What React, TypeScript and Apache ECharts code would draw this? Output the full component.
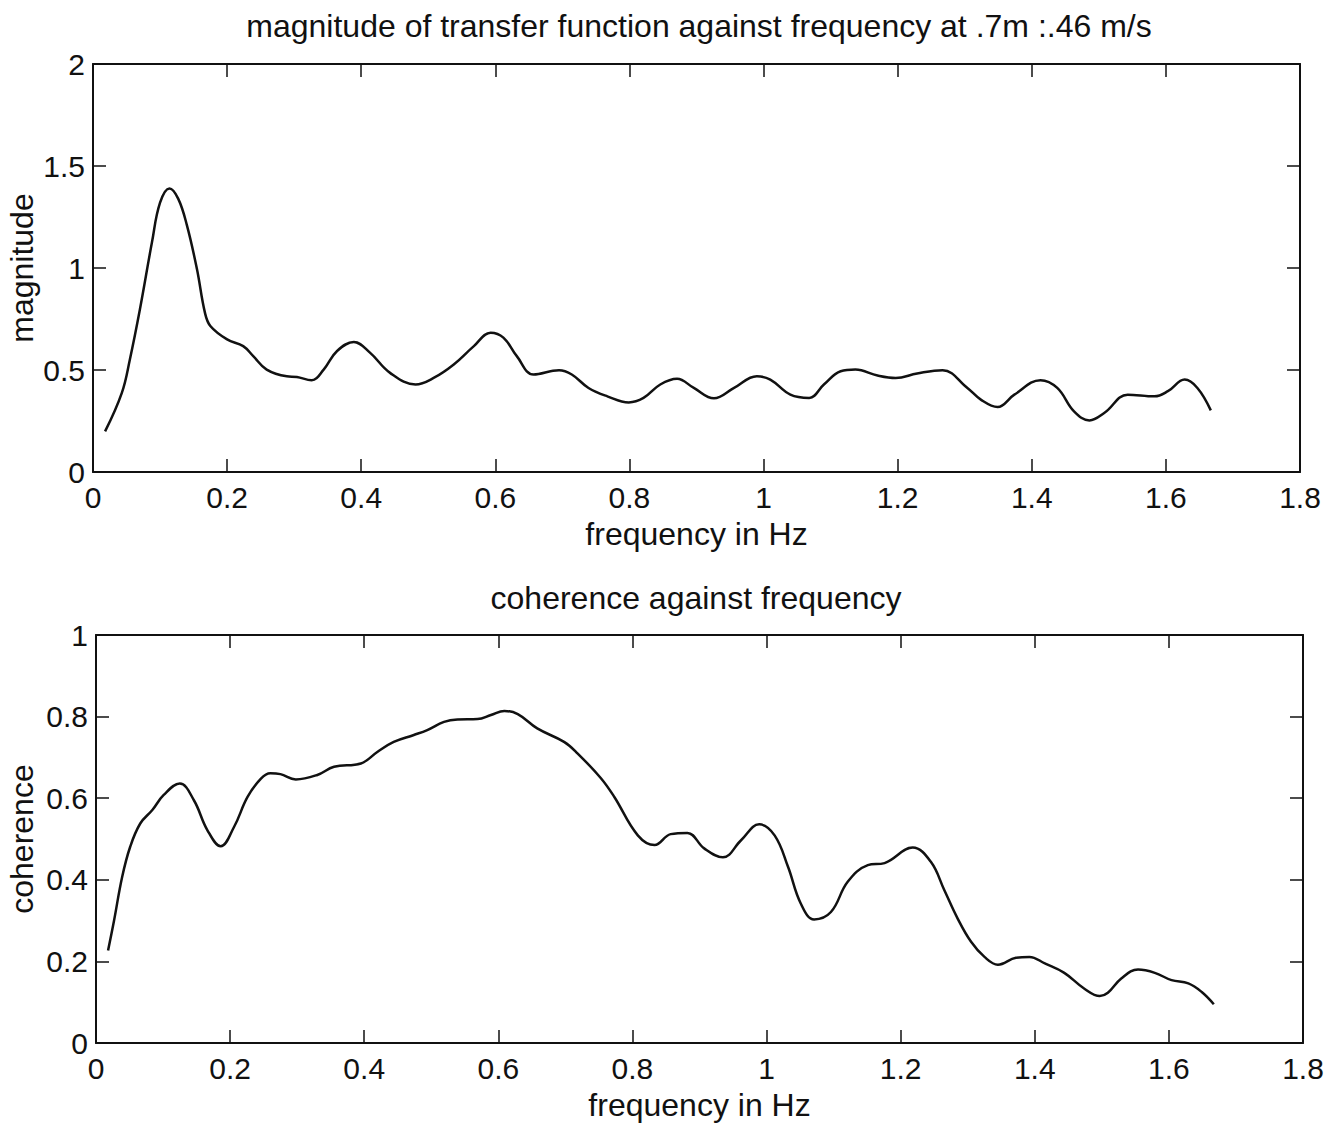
import React, { useEffect, useRef } from "react";
import * as echarts from "echarts";

const xTicksLabels = ["0", "0.2", "0.4", "0.6", "0.8", "1", "1.2", "1.4", "1.6", "1.8"];

const magFreq = [
  0.018, 0.043, 0.055, 0.07, 0.088, 0.1, 0.114, 0.127, 0.14, 0.155, 0.167, 0.175, 0.2, 0.224, 0.239,
  0.259, 0.289, 0.304, 0.326, 0.344, 0.364, 0.389, 0.413, 0.443, 0.481, 0.508, 0.538, 0.568, 0.593,
  0.612, 0.632, 0.657, 0.695, 0.714, 0.739, 0.767, 0.799, 0.821, 0.846, 0.871, 0.896, 0.926, 0.956,
  0.99, 1.01, 1.04, 1.068, 1.09, 1.115, 1.137, 1.17, 1.197, 1.229, 1.267, 1.304, 1.324, 1.349, 1.374,
  1.413, 1.438, 1.463, 1.486, 1.508, 1.543, 1.583, 1.603, 1.628, 1.647, 1.667,
];
const magValues = [
  0.199, 0.388, 0.552, 0.798, 1.127, 1.32, 1.39, 1.34, 1.21, 0.995, 0.78, 0.716, 0.65, 0.617, 0.568,
  0.502, 0.469, 0.466, 0.45, 0.502, 0.593, 0.637, 0.585, 0.486, 0.429, 0.461, 0.527, 0.617, 0.683,
  0.659, 0.568, 0.478, 0.499, 0.478, 0.412, 0.371, 0.341, 0.363, 0.429, 0.457, 0.412, 0.361, 0.412,
  0.469, 0.453, 0.379, 0.363, 0.429, 0.494, 0.502, 0.473, 0.461, 0.483, 0.499, 0.412, 0.355, 0.319, 0.379,
  0.45, 0.412, 0.297, 0.253, 0.289, 0.379, 0.371, 0.396, 0.453, 0.412, 0.302,
];

const cohFreq = [
  0.018, 0.027, 0.039, 0.051, 0.066, 0.084, 0.101, 0.125, 0.146, 0.166, 0.186, 0.206, 0.226, 0.246,
  0.26, 0.275, 0.298, 0.33, 0.355, 0.395, 0.42, 0.444, 0.474, 0.494, 0.519, 0.539, 0.569, 0.589, 0.609,
  0.629, 0.658, 0.698, 0.718, 0.753, 0.773, 0.808, 0.833, 0.857, 0.882, 0.907, 0.935, 0.962, 0.989,
  1.012, 1.032, 1.051, 1.071, 1.096, 1.121, 1.151, 1.176, 1.218, 1.245, 1.265, 1.285, 1.305, 1.325,
  1.345, 1.372, 1.392, 1.415, 1.444, 1.474, 1.497, 1.509, 1.529, 1.554, 1.579, 1.604, 1.629, 1.649, 1.667,
];
const cohValues = [
  0.227, 0.301, 0.407, 0.481, 0.538, 0.571, 0.608, 0.636, 0.595, 0.522, 0.482, 0.53, 0.603, 0.648,
  0.661, 0.659, 0.646, 0.657, 0.677, 0.685, 0.714, 0.738, 0.755, 0.767, 0.787, 0.793, 0.794, 0.804, 0.814,
  0.806, 0.771, 0.738, 0.71, 0.649, 0.603, 0.509, 0.485, 0.512, 0.515, 0.477, 0.455, 0.497, 0.536,
  0.509, 0.432, 0.342, 0.303, 0.321, 0.395, 0.436, 0.441, 0.479, 0.444, 0.375, 0.305, 0.248, 0.211,
  0.192, 0.209, 0.211, 0.195, 0.172, 0.133, 0.115, 0.123, 0.158, 0.18, 0.172, 0.154, 0.146, 0.125, 0.095,
];

const topTitle = "magnitude of transfer function against frequency at .7m :.46 m/s";
const bottomTitle = "coherence against frequency";
const xName = "frequency in Hz";
const topYName = "magnitude";
const bottomYName = "coherence";

const FONT = "Liberation Sans, Arial, Helvetica, sans-serif";
const INK = "#111";

export default function App() {
  const ref = useRef<HTMLDivElement>(null);
  useEffect(() => {
    document.body.style.margin = "0";
    const chart = echarts.init(ref.current!, null, { renderer: "svg" });
    const axisLine = { show: true, onZero: false, lineStyle: { color: INK, width: 2 } };
    const tick = { show: true, inside: true, length: 13, lineStyle: { color: INK, width: 1.5 } };
    const labelStyle = { color: INK, fontSize: 30, fontFamily: FONT };
    const nameStyle = { color: INK, fontSize: 32, fontFamily: FONT };

    const mkX = (grid: number, bottom: boolean) => ({
      type: "value",
      gridIndex: grid,
      position: bottom ? "bottom" : "top",
      min: 0,
      max: 1.8,
      interval: 0.2,
      axisLine,
      axisTick: tick,
      splitLine: { show: false },
      axisLabel: bottom
        ? { show: true, margin: 10, ...labelStyle, formatter: (v: number) => xTicksLabels[Math.round(v / 0.2)] }
        : { show: false },
      name: bottom ? xName : "",
      nameLocation: "middle",
      nameGap: 46,
      nameMoveOverlap: false,
      nameTextStyle: nameStyle,
    });
    const mkY = (grid: number, left: boolean, max: number, interval: number, name: string, gap: number) => ({
      type: "value",
      gridIndex: grid,
      position: left ? "left" : "right",
      min: 0,
      max,
      interval,
      axisLine,
      axisTick: tick,
      splitLine: { show: false },
      axisLabel: left ? { show: true, margin: 8, ...labelStyle } : { show: false },
      name: left ? name : "",
      nameLocation: "middle",
      nameGap: gap,
      nameMoveOverlap: false,
      nameTextStyle: nameStyle,
    });

    chart.setOption({
      animation: false,
      backgroundColor: "#fff",
      title: [
        { text: topTitle, left: 694, top: 5, textAlign: "center", textStyle: { color: INK, fontSize: 32, fontWeight: "normal", fontFamily: FONT } },
        { text: bottomTitle, left: 691, top: 577, textAlign: "center", textStyle: { color: INK, fontSize: 32, fontWeight: "normal", fontFamily: FONT } },
      ],
      grid: [
        { left: 93, top: 64, width: 1207, height: 408, containLabel: false, outerBoundsMode: "none" },
        { left: 96, top: 635, width: 1207, height: 408, containLabel: false, outerBoundsMode: "none" },
      ],
      xAxis: [mkX(0, true), mkX(0, false), mkX(1, true), mkX(1, false)],
      yAxis: [
        mkY(0, true, 2, 0.5, topYName, 55),
        mkY(0, false, 2, 0.5, "", 55),
        mkY(1, true, 1, 0.2, bottomYName, 58),
        mkY(1, false, 1, 0.2, "", 58),
      ],
      series: [
        {
          type: "line",
          xAxisIndex: 0,
          yAxisIndex: 0,
          data: magFreq.map((f, i) => [f, magValues[i]]),
          showSymbol: false,
          smooth: 0.4,
          lineStyle: { color: INK, width: 2.5 },
        },
        {
          type: "line",
          xAxisIndex: 2,
          yAxisIndex: 2,
          data: cohFreq.map((f, i) => [f, cohValues[i]]),
          showSymbol: false,
          smooth: 0.4,
          lineStyle: { color: INK, width: 2.5 },
        },
      ],
    });
    return () => chart.dispose();
  }, []);
  return <div ref={ref} style={{ width: 1335, height: 1123 }} />;
}
